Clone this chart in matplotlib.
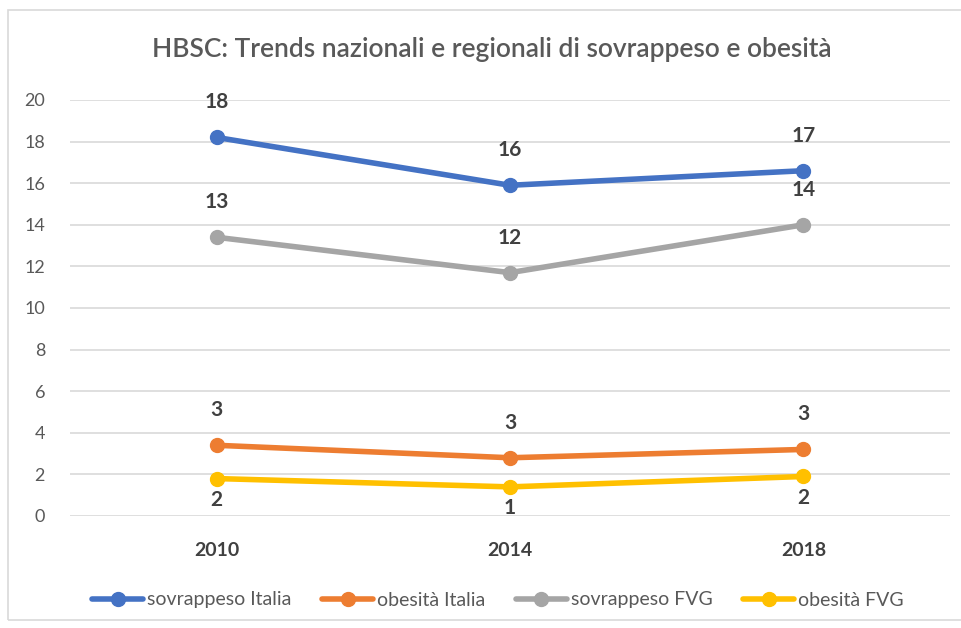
import matplotlib.pyplot as plt
from matplotlib.patches import Rectangle

plt.rcParams['font.family'] = ['Lato', 'DejaVu Sans']

years = ['2010', '2014', '2018']
sovrappeso_italia = [18.2, 15.9, 16.6]
obesita_italia = [3.4, 2.8, 3.2]
sovrappeso_fvg = [13.4, 11.7, 14.0]
obesita_fvg = [1.8, 1.4, 1.9]

series = [
    ('sovrappeso Italia', sovrappeso_italia, '#4472C4', 'above'),
    ('obesità Italia', obesita_italia, '#ED7D31', 'above'),
    ('sovrappeso FVG', sovrappeso_fvg, '#A5A5A5', 'above'),
    ('obesità FVG', obesita_fvg, '#FFC000', 'below'),
]

fig = plt.figure(figsize=(9.61, 6.28), dpi=100)
ax = fig.add_axes([70 / 961, 1 - 516 / 628, 880 / 961, 416 / 628])

# chart border
fig.patches.append(Rectangle((8 / 961, 1 - 620 / 628), 960 / 961, 610 / 628,
                             transform=fig.transFigure, fill=False,
                             edgecolor='#D9D9D9', linewidth=1.2))

x = list(range(len(years)))
for name, vals, color, pos in series:
    ax.plot(x, vals, color=color, linewidth=4, marker='o', markersize=10,
            label=name, solid_capstyle='round', zorder=3)
    for xi, v in zip(x, vals):
        off = 18 if pos == 'above' else -8
        ax.annotate(f'{v:.0f}', (xi, v), xytext=(0, off), textcoords='offset points',
                    ha='center', va='bottom' if pos == 'above' else 'top',
                    fontsize=15, fontweight='bold', color='#404040')

ax.set_xlim(-0.5, 2.5)
ax.set_ylim(0, 20)
ax.set_yticks(range(0, 21, 2))
ax.set_xticks(x)
ax.set_xticklabels(years, fontsize=14, fontweight='bold', color='#404040')
ax.tick_params(axis='y', labelsize=13, labelcolor='#595959', length=0, pad=18)
ax.tick_params(axis='x', length=0, pad=19)
ax.grid(axis='y', color='#D9D9D9', linewidth=1.2)
ax.set_axisbelow(True)
for s in ax.spines.values():
    s.set_visible(False)

fig.suptitle('HBSC: Trends nazionali e regionali di sovrappeso e obesità',
             x=492 / 961, y=1 - 50 / 628, va='center', fontsize=19,
             fontweight='semibold', color='#595959')

fig.legend(loc='center', bbox_to_anchor=(498 / 961, 1 - 600 / 628), ncol=4,
           frameon=False, fontsize=14, handlelength=2.6, columnspacing=1.6,
           handletextpad=0.2, labelcolor='#595959')

fig.savefig('out.png', dpi=100)
